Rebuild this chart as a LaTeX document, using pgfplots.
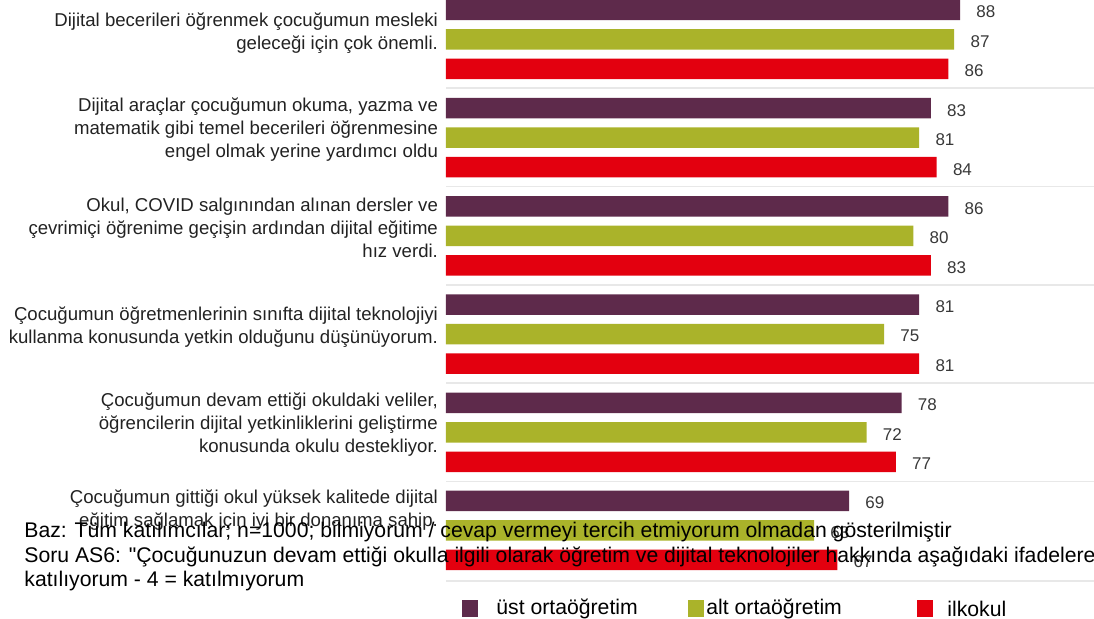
\documentclass[border=0pt]{standalone}
\usepackage{pgfplots}
\pgfplotsset{compat=1.18}
\usepackage{fontspec}
\setmainfont{Liberation Sans}
\definecolor{cPurple}{HTML}{5E2A4B}
\definecolor{cGreen}{HTML}{AAB32A}
\definecolor{cRed}{HTML}{E3000F}
\definecolor{cGrid}{HTML}{E8E8E8}
\definecolor{cText}{HTML}{222222}
\begin{document}
\begin{tikzpicture}[x=0.5pt,y=0.5pt]
\useasboundingbox (0,0) rectangle (1094,619);
\clip (0,0) rectangle (1094,619);
\begin{axis}[
  at={(223pt,0pt)}, anchor=south west,
  scale only axis, width=327.7pt, height=309.5pt,
  xmin=0, xmax=112.2, ymin=0, ymax=619, y dir=reverse,
  xbar, bar width=10.25pt, bar shift=0pt,
  axis line style={draw=none},
  xtick=\empty, ytick=\empty,
  extra y ticks={88,186.5,285,383,481.5,581},
  extra y tick labels={},
  extra y tick style={grid=major, major grid style={cGrid, line width=0.8pt}, major tick length=0pt},
  clip=false,
  nodes near coords={\pgfmathprintnumber[assume math mode=true]{\pgfplotspointmeta}},
  nodes near coords style={anchor=west, xshift=4.65pt, yshift=-1pt, font=\fontsize{8.5}{10}\selectfont, text=cText!90},
  every axis plot/.append style={draw=none},
]
\addplot[fill=cPurple] coordinates {(88,10) (83,108.2) (86,206.4) (81,304.6) (78,402.8) (69,501)};
\addplot[fill=cGreen] coordinates {(87,39.5) (81,137.7) (80,235.9) (75,334.1) (72,432.3) (63,530.5)};
\addplot[fill=cRed] coordinates {(86,69) (84,167.2) (83,265.4) (81,363.6) (77,461.8) (67,560)};
\begin{scope}[every node/.style={anchor=east, align=right, xshift=-0.5pt, text=cText, font=\fontsize{9.3}{11.5}\selectfont}]
\node at (axis cs:0,33) {Dijital becerileri öğrenmek çocuğumun mesleki\\geleceği için çok önemli.};
\node at (axis cs:0,130) {Dijital araçlar çocuğumun okuma, yazma ve\\matematik gibi temel becerileri öğrenmesine\\engel olmak yerine yardımcı oldu};
\node at (axis cs:0,228) {Okul, COVID salgınından alınan dersler ve\\çevrimiçi öğrenime geçişin ardından dijital eğitime\\hız verdi.};
\node at (axis cs:0,327.5) {Çocuğumun öğretmenlerinin sınıfta dijital teknolojiyi\\kullanma konusunda yetkin olduğunu düşünüyorum.};
\node at (axis cs:0,425) {Çocuğumun devam ettiği okuldaki veliler,\\öğrencilerin dijital yetkinliklerini geliştirme\\konusunda okulu destekliyor.};
\node at (axis cs:0,510) {Çocuğumun gittiği okul yüksek kalitede dijital\\eğitim sağlamak için iyi bir donanıma sahip.};
\end{scope}
\end{axis}
\begin{scope}[every node/.style={anchor=west, inner sep=0pt, text=black, font=\fontsize{10.6}{12}\selectfont}]
\node at (24,87) {Baz: Tüm katılımcılar; n=1000; bilmiyorum / cevap vermeyi tercih etmiyorum olmadan gösterilmiştir};
\node at (24,62) {Soru AS6: \textquotedbl Çocuğunuzun devam ettiği okulla ilgili olarak öğretim ve dijital teknolojiler hakkında aşağıdaki ifadelere};
\node at (24,38) {katılıyorum - 4 = katılmıyorum};
\fill[cPurple] (462,2) rectangle (478,19);
\node at (496,10) {üst ortaöğretim};
\fill[cGreen] (688,2) rectangle (704,19);
\node at (706,10) {alt ortaöğretim};
\fill[cRed] (917,2) rectangle (933,19);
\node at (947,10) {ilkokul};
\end{scope}
\end{tikzpicture}
\end{document}
